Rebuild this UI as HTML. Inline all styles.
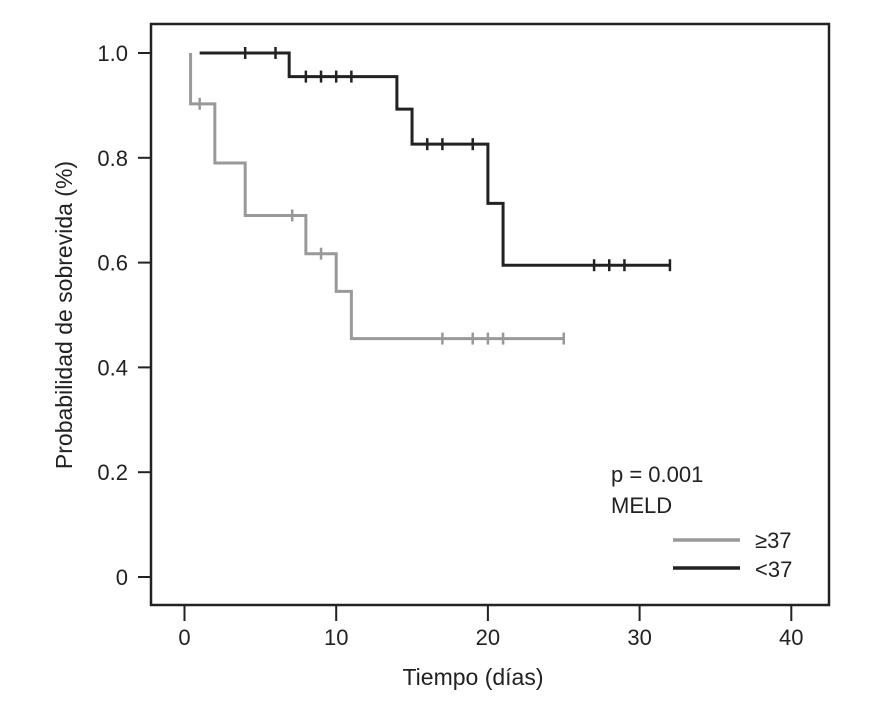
<!DOCTYPE html>
<html><head><meta charset="utf-8"><style>
html,body{margin:0;padding:0;background:#fff;}
svg text{font-family:"Liberation Sans Narrow","Liberation Sans",sans-serif;fill:#222;}
</style></head><body>
<svg id="chart" width="875" height="720" viewBox="0 0 875 720">
<rect x="151" y="24" width="678" height="581" fill="none" stroke="#222" stroke-width="2.5"/>
<g id="axes"></g>
<g id="series"></g>
<text x="611" y="482" font-size="22">p = 0.001</text>
<text x="611" y="513" font-size="22">MELD</text>
<line x1="673" y1="540" x2="740" y2="540" stroke="#999" stroke-width="3.5"/>
<text x="755" y="548" font-size="22">≥37</text>
<line x1="673" y1="568" x2="740" y2="568" stroke="#222" stroke-width="3.5"/>
<text x="755" y="577" font-size="22">&lt;37</text>
<text x="473" y="685" font-size="23" text-anchor="middle">Tiempo (días)</text>
<text transform="translate(72,315) rotate(-90)" font-size="23" text-anchor="middle">Probabilidad de sobrevida (%)</text>
</svg>
<script>
const xTicks = [0,10,20,30,40];
const yTicks = [0,0.2,0.4,0.6,0.8,1.0];
const yTickLabels = ["0","0.2","0.4","0.6","0.8","1.0"];
// gray (>=37) steps: time, survival
const grayTimes = [0.4,2,4,8,10,11];
const graySurv = [0.903,0.79,0.69,0.617,0.545,0.455];
const grayStart = 0.4;
const grayEnd = 25;
const grayCensor = [1,7.1,9,17,19,20,21,25];
// black (<37)
const blackTimes = [6.9,14,15,20,21];
const blackSurv = [0.955,0.893,0.826,0.713,0.595];
const blackStart = 1;
const blackEnd = 32;
const blackCensor = [4,6,8,9,10,11,16,17,19,27,28,29,32];

const NS='http://www.w3.org/2000/svg';
const X = d => 184.5 + d*15.17;
const Y = s => 577 - s*524;
const axes=document.getElementById('axes'), series=document.getElementById('series');
function mk(tag,attrs,parent){const e=document.createElementNS(NS,tag);for(const k in attrs)e.setAttribute(k,attrs[k]);parent.appendChild(e);return e;}
xTicks.forEach(t=>{
  const l=mk('line',{x1:X(t),x2:X(t),y1:605,y2:621,stroke:'#222','stroke-width':2},axes);
  
  
  const tx=mk('text',{x:X(t),y:645,'font-size':22,'text-anchor':'middle'},axes);tx.textContent=t;
  
  
});
yTicks.forEach((t,i)=>{
  const l=mk('line',{x1:138,x2:151,y1:Y(t),y2:Y(t),stroke:'#222','stroke-width':2},axes);
  
  
  const tx=mk('text',{x:128,y:Y(t)+8,'font-size':22,'text-anchor':'end'},axes);tx.textContent=yTickLabels[i];
  
  
});
function survAt(times,surv,t){let s=1;for(let i=0;i<times.length;i++){if(t>=times[i])s=surv[i];}return s;}
function drawCurve(times,surv,start,end,censor,color,name,startAtOne){
  let d='M'+X(start)+','+Y(1);
  let s=1;
  times.forEach((t,i)=>{
    d+=' L'+X(t)+','+Y(s)+' L'+X(t)+','+Y(surv[i]);
    s=surv[i];
  });
  d+=' L'+X(end)+','+Y(s);
  const p=mk('path',{d:d,fill:'none',stroke:color,'stroke-width':3},series);
  
  
  censor.forEach(c=>{
    const sv=survAt(times,surv,c);
    const l=mk('line',{x1:X(c),x2:X(c),y1:Y(sv)-6,y2:Y(sv)+6,stroke:color,'stroke-width':2.5},series);
    
    
  });
}
drawCurve(grayTimes,graySurv,grayStart,grayEnd,grayCensor,'#999','meld-ge37');
drawCurve(blackTimes,blackSurv,blackStart,blackEnd,blackCensor,'#222','meld-lt37');
</script>
</body></html>
